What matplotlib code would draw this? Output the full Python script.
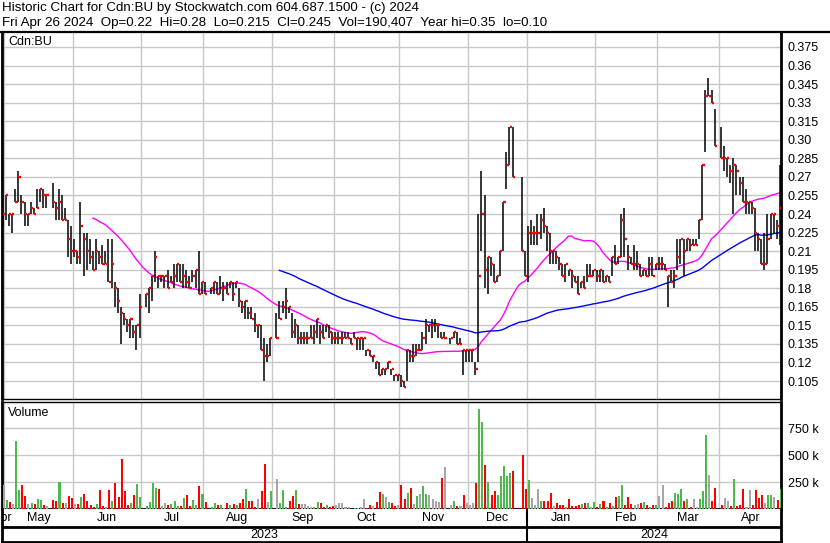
import numpy as np
import pandas as pd
import matplotlib
matplotlib.use('Agg')
import matplotlib.pyplot as plt

plt.rcParams['font.family'] = ['Liberation Sans', 'DejaVu Sans']

# daily bars Apr 28 2023 - Apr 26 2024, None = no trade that day
high = [
    .24, .255, .24, .24, .26, .275, .255, .25, .24, .25,
    .245, .26, .26, .26, .255, None, .265, .25, .26, .255,
    .245, .235, .23, .22, .21, .25, .225, .225, .22, .21,
    .22, .21, .215, .21, .22, .22, .185, .18, .165, .16,
    .155, .155, .15, .15, .175, None, .175, .18, .19, .21,
    .19, .19, .19, .195, .19, .20, .20, .20, .20, .195,
    .19, .195, .195, .21, .185, .185, None, .18, .185, .185,
    .19, .185, .185, .185, .185, .185, .18, .17, .17, .165,
    .165, .16, .15, .15, .14, .135, .14, None, .16, .17,
    .17, .18, .165, .16, .155, .15, .145, .145, .145, .15,
    .15, .155, .15, .15, .15, .15, .145, .145, .145, .145,
    .145, .145, .14, .145, .14, .14, .14, .13, .13, .125,
    .12, .12, .115, .115, .12, .115, .11, .11, .11, .105,
    .13, .13, .135, .135, .135, .145, .155, .15, .155, .155,
    .15, .145, .145, None, .14, .145, .145, .14, .13, .13,
    .13, .13, .12, .24, .275, .255, .205, .205, .20, .19,
    .21, .25, .29, .31, .31, None, None, .27, .21, .23,
    .235, .23, .24, .24, .245, .23, .225, .21, .21, .205,
    .20, .20, .195, .195, .19, .19, .185, .19, .20, .20,
    .195, .195, .195, .195, .19, .19, .205, .215, .205, .24,
    .245, .215, .205, .215, .21, .20, .195, .195, .205, .205,
    .20, .205, .205, .20, .19, .195, .195, .22, .22, .22,
    .22, .22, .22, .22, .235, .28, .34, .35, .34, .325,
    None, .31, .295, .285, .28, .285, .28, .27, .27, .26,
    .25, .25, .245, .225, .22, .225, .24, .24, .24, .235,
    .28,
]
low = [
    .23, .235, .23, .225, .25, .25, .24, .23, .23, .24,
    .24, .245, .25, .245, .245, None, .245, .235, .235, .235,
    .235, .205, .20, .205, .20, .20, .19, .195, .20, .195,
    .195, .20, .20, .20, .185, .18, .165, .16, .135, .15,
    .145, .14, .14, .13, .14, None, .165, .16, .17, .185,
    .18, .185, .18, .18, .185, .18, .185, .185, .18, .18,
    .18, .185, .18, .175, .175, .175, None, .175, .175, .175,
    .175, .17, .175, .18, .17, .18, .165, .16, .155, .155,
    .155, .145, .14, .13, .105, .12, .125, None, .14, .155,
    .16, .155, .16, .14, .14, .135, .135, .135, .135, .14,
    .135, .14, .135, .14, .145, .14, .135, .135, .135, .135,
    .14, .14, .135, .14, .13, .13, .13, .125, .125, .12,
    .115, .11, .11, .11, .115, .11, .105, .105, .10, .10,
    .105, .12, .12, .125, .13, .13, .135, .145, .14, .145,
    .14, .14, .14, None, .135, .14, .135, .135, .11, .12,
    .12, .12, .11, .12, .21, .18, .175, .19, .185, .185,
    .19, .21, .26, .28, .27, None, None, .21, .19, .185,
    .215, .215, .215, .22, .225, .21, .20, .20, .20, .195,
    .19, .185, .19, .18, .185, .175, .18, .18, .185, .19,
    .19, .185, .185, .185, .185, .185, .19, .20, .20, .205,
    .205, .195, .20, .195, .195, .19, .19, .19, .19, .19,
    .195, .195, .195, .195, .165, .185, .18, .195, .20, .19,
    .21, .21, .215, .215, .22, .235, .29, .335, .33, .295,
    None, .285, .275, .27, .265, .24, .255, .255, .25, .24,
    .24, .24, .21, .21, .20, .195, .20, .22, .225, .22,
    .215,
]
close = [
    .24, .255, .24, .24, .25, .27, .25, .24, .24, .245,
    .24, .245, .26, .255, .255, None, .25, .245, .25, .235,
    .235, .22, .21, .21, .205, .23, .22, .21, .205, .195,
    .21, .205, .20, .20, .185, .20, .18, .17, .16, .155,
    .15, .155, .145, .15, .165, None, .175, .18, .19, .205,
    .19, .19, .19, .18, .185, .19, .20, .185, .19, .185,
    .18, .19, .195, .175, .185, .175, None, .18, .185, .175,
    .18, .18, .175, .185, .175, .185, .17, .165, .17, .16,
    .155, .15, .15, .13, .125, .125, .14, None, .14, .155,
    .165, .17, .165, .145, .15, .14, .14, .14, .14, .14,
    .145, .155, .145, .14, .15, .145, .14, .14, .14, .14,
    .14, .14, .135, .14, .14, .14, .14, .13, .125, .125,
    .12, .11, .115, .115, .12, .115, .11, .11, .105, .10,
    .13, .125, .125, .13, .13, .14, .15, .15, .15, .15,
    .15, .14, .14, None, .14, .145, .135, .135, .13, .13,
    .13, .13, .115, .19, .24, .195, .205, .20, .185, .19,
    .21, .25, .28, .31, .27, None, None, .21, .19, .225,
    .225, .225, .225, .235, .23, .225, .21, .21, .205, .20,
    .19, .20, .195, .19, .185, .175, .185, .18, .19, .19,
    .195, .19, .195, .185, .19, .185, .205, .20, .205, .235,
    .22, .205, .20, .20, .20, .19, .195, .19, .20, .19,
    .20, .20, .20, .195, .19, .185, .19, .205, .22, .21,
    .22, .215, .215, .215, .235, .28, .335, .335, .33, .295,
    None, .285, .285, .285, .275, .28, .275, .265, .25, .25,
    .25, .245, .225, .22, .20, .20, .22, .24, .24, .23,
    .245,
]
# volume in thousands of shares
volume_k = [
    225, 86, 65, 49, 633, 179, 225, 117, 49, 59,
    49, 96, 86, 40, 31, 0, 86, 71, 250, 59,
    59, 123, 102, 49, 49, 114, 136, 77, 40, 22,
    49, 179, 31, 22, 179, 77, 244, 114, 466, 170,
    40, 59, 133, 235, 114, 0, 31, 68, 244, 198,
    188, 31, 59, 40, 49, 77, 31, 31, 105, 127,
    31, 86, 40, 216, 136, 65, 0, 22, 59, 40,
    40, 12, 59, 40, 49, 40, 59, 96, 188, 77,
    77, 22, 96, 170, 420, 68, 170, 0, 281, 59,
    179, 22, 77, 123, 179, 49, 49, 49, 31, 22,
    22, 68, 59, 22, 40, 22, 31, 40, 59, 59,
    22, 22, 3, 9, 9, 22, 96, 9, 40, 31,
    68, 160, 142, 114, 68, 59, 31, 40, 225, 96,
    151, 198, 49, 123, 142, 216, 142, 133, 96, 77,
    68, 290, 392, 0, 40, 77, 31, 31, 133, 59,
    40, 59, 244, 929, 809, 411, 253, 133, 170, 133,
    309, 401, 309, 336, 355, 0, 0, 503, 188, 272,
    105, 40, 188, 77, 77, 77, 151, 31, 59, 40,
    40, 22, 96, 31, 31, 40, 49, 59, 59, 22,
    68, 22, 49, 77, 22, 59, 31, 114, 123, 225,
    40, 114, 49, 40, 49, 59, 68, 40, 22, 40,
    40, 123, 225, 22, 59, 77, 151, 142, 188, 77,
    96, 22, 96, 22, 96, 170, 688, 318, 77, 198,
    0, 40, 105, 77, 31, 281, 31, 40, 188, 22,
    179, 40, 179, 105, 133, 59, 133, 133, 114, 86,
    190,
]

holidays = pd.to_datetime(['2023-05-22', '2023-07-03', '2023-08-07', '2023-09-04',
                           '2023-10-09', '2023-12-25', '2023-12-26', '2024-01-01',
                           '2024-02-19', '2024-03-29'])
days = pd.bdate_range('2023-04-01', '2024-04-26')
days = days[~days.isin(holidays)][-len(close):]

hi = np.array(high, dtype=float)
lo = np.array(low, dtype=float)
cl = np.array(close, dtype=float)
vol = np.array(volume_k, dtype=float) * 1000
x = np.arange(len(cl))
ok = ~np.isnan(cl)

cl_ff = pd.Series(cl).ffill()
ma30 = cl_ff.rolling(30).mean()
ma90 = cl_ff.rolling(90).mean()
prev = cl_ff.shift(1).values
vcol = np.where(cl > prev, '#4db84d', np.where(cl < prev, '#ff0000', '#a6a6a6'))

# month / year groups for the date axis
ym = pd.Series(x, index=days)
months = ym.groupby([days.year, days.month]).agg(['min', 'max'])
years = ym.groupby(days.year).agg(['min', 'max'])
bounds = [m - 0.5 for m in months['min'].values[1:]]

W, H = 830, 543
fig = plt.figure(figsize=(W / 100, H / 100), dpi=100)


def box(x0, y0, x1, y1):
    return [x0 / W, 1 - y1 / H, (x1 - x0) / W, (y1 - y0) / H]


ax = fig.add_axes(box(2, 32, 781, 399))
axv = fig.add_axes(box(2, 402, 781, 509), sharex=ax)
axd = fig.add_axes(box(2, 509, 781, 542), sharex=ax)
grid = '#c8c8c8'

# price panel
ax.vlines(x[ok], lo[ok], hi[ok], color='black', lw=1.1, zorder=3)
ax.hlines(cl[ok], x[ok] + 0.05, x[ok] + 0.75, color='red', lw=1.7, zorder=4)
ax.plot(x, ma30, color='#ff00ff', lw=1, zorder=2)
ax.plot(x, ma90, color='#0000ff', lw=1, zorder=2)
ax.set_xlim(-0.25, len(cl) - 0.65)
ax.set_ylim(0.0905, 0.3871)
yt = np.arange(0.105, 0.3751, 0.015)
ax.set_yticks(yt)
labs = []
for v in yt:
    s = f'{v:.3f}'
    labs.append(s[:-1] if s.endswith('0') else s)
ax.set_yticklabels(labs)
ax.yaxis.tick_right()
ax.set_xticks(bounds)
ax.tick_params(axis='both', length=0, labelsize=9, pad=5)
ax.tick_params(axis='x', labelbottom=False)
ax.grid(True, color=grid, lw=1)
ax.set_axisbelow(True)
ax.text(0.008, 0.972, 'Cdn:BU', transform=ax.transAxes, fontsize=9, va='center')

# volume panel
axv.bar(x + 0.25, vol, width=0.65, color=vcol, zorder=3)
axv.set_ylim(0, 993000)
axv.set_yticks([250000, 500000, 750000])
axv.set_yticklabels(['250 k', '500 k', '750 k'])
axv.yaxis.tick_right()
axv.tick_params(axis='both', length=0, labelsize=9, pad=5)
axv.tick_params(axis='x', labelbottom=False)
axv.grid(True, color=grid, lw=1)
axv.set_axisbelow(True)
axv.text(0.008, 0.897, 'Volume', transform=axv.transAxes, fontsize=9, va='center')

# date rows
axd.set_ylim(0, 1)
axd.tick_params(axis='both', length=0, labelbottom=False, labelleft=False)
axd.axhline(0.45, color='black', lw=2)
for (yr, mo), r in months.iterrows():
    axd.text((r['min'] + r['max']) / 2, 0.73, pd.Timestamp(yr, mo, 1).strftime('%b'),
             ha='center', va='center', fontsize=9, clip_on=True)
for yr, r in years.iterrows():
    axd.text((r['min'] + r['max']) / 2, 0.22, str(yr), ha='center', va='center', fontsize=9)
    if r['min'] > 0:
        axd.axvline(r['min'] - 0.5, color='black', lw=1.5)

for a in (ax, axv, axd):
    for side in ('left', 'right'):
        a.spines[side].set_linewidth(2)
ax.spines['top'].set_visible(False)
ax.spines['bottom'].set_linewidth(1)
axv.spines['top'].set_linewidth(1)
axv.spines['bottom'].set_linewidth(2)
axd.spines['top'].set_visible(False)
axd.spines['bottom'].set_linewidth(2)

# header
fig.add_artist(plt.Line2D([0, 1], [1 - 31.5 / H, 1 - 31.5 / H], color='black', lw=1.6))
fig.text(2 / W, 1 - 8.5 / H, 'Historic Chart for Cdn:BU by Stockwatch.com 604.687.1500 - (c) 2024',
         fontsize=9.6, va='center')
fig.text(2 / W, 1 - 23 / H,
         'Fri Apr 26 2024  Op=0.22  Hi=0.28  Lo=0.215  Cl=0.245  Vol=190,407  Year hi=0.35  lo=0.10',
         fontsize=9.6, va='center')

fig.savefig('out.png', dpi=100)
